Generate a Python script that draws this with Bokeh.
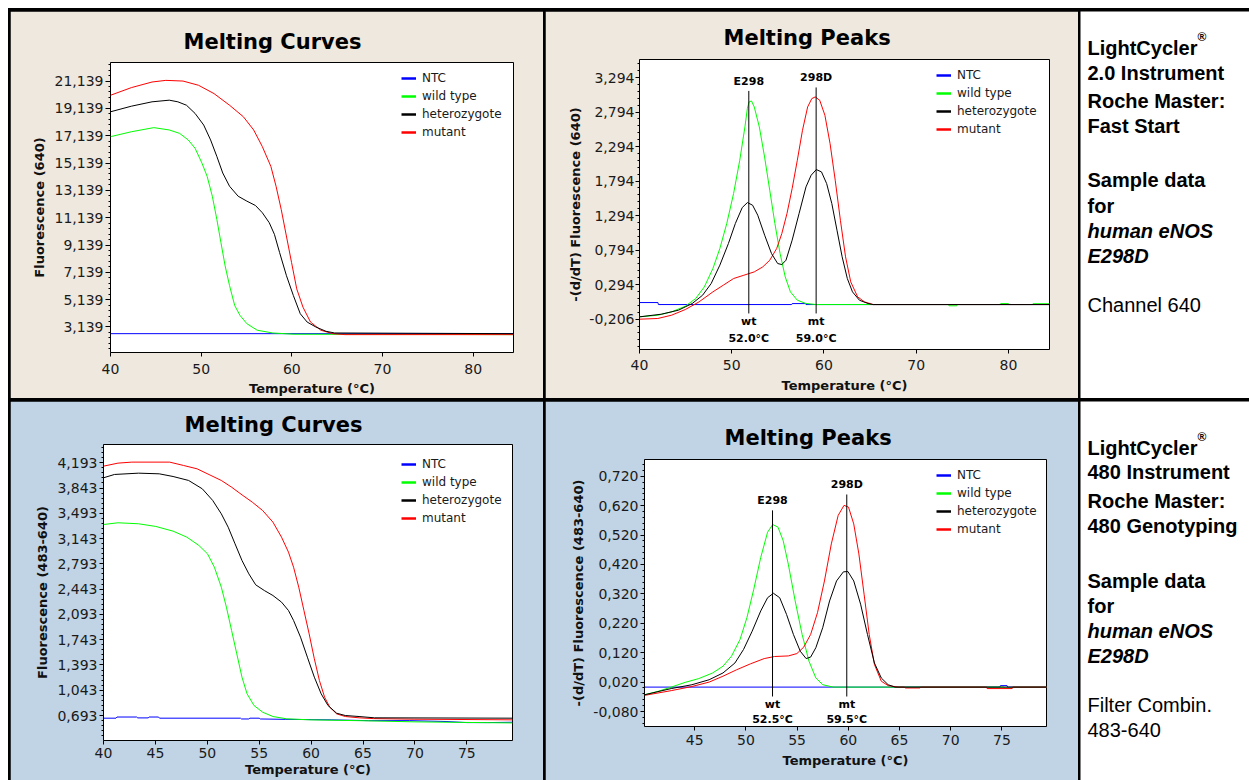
from bokeh.plotting import figure
from bokeh.models import (Range1d, FixedTicker, CustomJSTickFormatter, Legend, LegendItem,
                          Title, GridBox, Spacer)
from bokeh.core.properties import value
from bokeh.embed import file_html
from bokeh.resources import INLINE

# ------------------------------------------------------------------ data
SERIES = ["NTC", "wild type", "heterozygote", "mutant"]
SERIES_COLORS = ["#0000FF", "#00FF00", "#000000", "#FF0000"]

# LightCycler 2.0 - Melting Curves, channel 640
lc20_mc_ntc_t = [40.0, 84.4]
lc20_mc_ntc_f = [2.65, 2.65]
lc20_mc_wt_t = [40.0, 42.3, 44.77, 46.48, 47.62, 48.57, 49.33, 50.09, 50.66, 51.23, 51.73,
                52.18, 52.64, 53.13, 53.70, 54.28, 55.04, 56.18, 57.89, 60.17, 84.4]
lc20_mc_wt_f = [17.07, 17.43, 17.73, 17.56, 17.31, 16.83, 16.22, 15.13, 14.16, 12.71, 11.01,
                9.32, 7.62, 6.17, 4.71, 3.99, 3.38, 2.90, 2.70, 2.61, 2.58]
lc20_mc_het_t = [40.0, 42.3, 44.58, 46.48, 47.43, 48.38, 49.33, 50.28, 51.04, 51.73, 52.38,
                 53.13, 54.08, 55.04, 55.99, 56.75, 57.51, 58.08, 58.65, 59.41, 60.17, 60.93,
                 61.69, 62.64, 63.78, 64.73, 84.4]
lc20_mc_het_f = [18.89, 19.30, 19.62, 19.74, 19.62, 19.37, 18.77, 17.92, 16.83, 15.62, 14.41,
                 13.44, 12.71, 12.35, 12.03, 11.50, 10.77, 9.92, 8.59, 6.89, 5.44, 4.11,
                 3.50, 3.14, 2.82, 2.70, 2.65]
lc20_mc_mut_t = [40.0, 42.3, 44.58, 46.10, 48.0, 49.71, 51.42, 53.13, 54.65, 55.79, 56.74,
                 57.69, 58.26, 58.83, 59.40, 59.97, 60.54, 61.23, 62.06, 63.20, 64.53, 65.86, 84.4]
lc20_mc_mut_f = [20.10, 20.66, 21.07, 21.19, 21.14, 20.83, 20.22, 19.37, 18.53, 17.56, 16.35,
                 14.89, 13.44, 11.74, 9.80, 7.86, 5.93, 4.59, 3.50, 2.90, 2.65, 2.58, 2.58]
lc20_mc_xticks = [40, 50, 60, 70, 80]
lc20_mc_yticks = [3.139, 5.139, 7.139, 9.139, 11.139, 13.139, 15.139, 17.139, 19.139, 21.139]

# LightCycler 2.0 - Melting Peaks, channel 640
lc20_mp_ntc_t = [40.0, 42.0, 42.05, 56.5, 56.55, 58.0, 58.05, 84.4]
lc20_mp_ntc_f = [0.035, 0.035, 0.006, 0.006, 0.020, 0.020, 0.006, 0.006]
lc20_mp_wt_t = [40.0, 41.98, 43.48, 44.97, 46.09, 47.03, 47.96, 48.71, 49.46, 50.20, 50.87,
                51.43, 51.70, 51.88, 52.14, 52.44, 52.99, 53.56, 54.12, 54.68, 55.24, 55.80,
                56.36, 57.11, 58.04, 59.16, 73.5, 73.55, 74.4, 74.45, 79.1, 79.15, 80.0, 80.05,
                82.6, 82.65, 84.4]
lc20_mp_wt_f = [-0.172, -0.148, -0.100, -0.018, 0.093, 0.262, 0.528, 0.817, 1.179, 1.614, 2.096,
                2.579, 2.850, 2.940, 2.955, 2.868, 2.579, 2.144, 1.662, 1.179, 0.745, 0.407,
                0.190, 0.069, 0.021, 0.006, 0.006, -0.012, -0.012, 0.006, 0.006, 0.020, 0.020, 0.006,
                0.006, 0.018, 0.018]
lc20_mp_het_t = [40.0, 42.36, 44.22, 45.72, 46.84, 47.77, 48.71, 49.64, 50.39, 51.14, 51.70,
                 52.26, 52.82, 53.57, 54.31, 54.98, 55.43, 55.88, 56.55, 57.30, 58.05, 58.61,
                 59.17, 59.73, 60.29, 60.85, 61.41, 61.97, 62.53, 63.09, 63.84, 64.77, 65.33, 84.4]
lc20_mp_het_f = [-0.172, -0.134, -0.076, 0.021, 0.141, 0.310, 0.576, 0.890, 1.179, 1.411, 1.483,
                 1.445, 1.300, 1.010, 0.745, 0.600, 0.585, 0.648, 0.938, 1.324, 1.710, 1.879,
                 1.961, 1.927, 1.758, 1.469, 1.083, 0.697, 0.383, 0.190, 0.069, 0.021, 0.006, 0.006]
lc20_mp_mut_t = [40.0, 41.98, 43.48, 44.97, 46.46, 47.96, 49.08, 50.20, 51.32, 52.44, 53.37,
                 54.12, 54.87, 55.43, 55.99, 56.55, 57.11, 57.67, 58.23, 58.68, 59.05, 59.54,
                 60.10, 60.66, 61.22, 61.78, 62.34, 62.90, 63.65, 64.39, 65.33, 84.4]
lc20_mp_mut_f = [-0.206, -0.196, -0.148, -0.066, 0.045, 0.190, 0.286, 0.383, 0.431, 0.479, 0.552,
                 0.648, 0.817, 1.034, 1.324, 1.686, 2.096, 2.530, 2.868, 2.989, 3.013, 2.965,
                 2.748, 2.337, 1.807, 1.227, 0.697, 0.335, 0.117, 0.045, 0.006, 0.006]
lc20_mp_xticks = [40, 50, 60, 70, 80]
lc20_mp_yticks = [-0.206, 0.294, 0.794, 1.294, 1.794, 2.294, 2.794, 3.294]
lc20_peak_t = [51.85, 59.15]
lc20_peak_names = ["E298", "298D"]
lc20_peak_genotypes = ["wt", "mt"]
lc20_peak_tm = ["52.0°C", "59.0°C"]

# LightCycler 480 - Melting Curves, filter 483-640
lc480_mc_ntc_t = [40.0, 41.2, 41.3, 43.2, 43.3, 44.3, 44.4, 45.3, 45.4, 53.2, 53.3, 54.0, 54.1,
                  55.0, 55.1, 57.5, 62.0, 65.5, 69.5, 73.0, 75.0, 77.0, 79.4]
lc480_mc_ntc_f = [0.656, 0.656, 0.672, 0.672, 0.660, 0.660, 0.672, 0.672, 0.656, 0.656, 0.645,
                  0.645, 0.656, 0.656, 0.645, 0.640, 0.633, 0.622, 0.622, 0.610, 0.595, 0.595, 0.600]
lc480_mc_wt_t = [40.0, 41.39, 43.38, 45.04, 46.70, 48.03, 49.19, 50.02, 50.68, 51.35, 51.84,
                 52.34, 52.84, 53.34, 53.83, 54.50, 55.33, 56.32, 57.65, 59.97, 65.28, 70.0, 79.4]
lc480_mc_wt_f = [3.338, 3.362, 3.348, 3.311, 3.246, 3.163, 3.048, 2.932, 2.747, 2.470, 2.193,
                 1.870, 1.547, 1.224, 0.993, 0.831, 0.739, 0.679, 0.647, 0.633, 0.620, 0.605, 0.590]
lc480_mc_het_t = [40.0, 41.06, 43.38, 45.37, 46.70, 48.20, 49.52, 50.52, 51.35, 52.01, 52.67,
                  53.34, 54.00, 54.66, 55.49, 56.32, 57.15, 57.82, 58.31, 58.98, 59.64, 60.31,
                  60.97, 61.63, 62.46, 63.29, 64.62, 66.11, 79.4]
lc480_mc_het_f = [3.985, 4.031, 4.049, 4.040, 4.003, 3.948, 3.832, 3.671, 3.486, 3.301, 3.071,
                  2.840, 2.655, 2.503, 2.424, 2.355, 2.263, 2.147, 2.009, 1.778, 1.501, 1.224,
                  0.993, 0.831, 0.725, 0.693, 0.679, 0.661, 0.656]
lc480_mc_mut_t = [40.0, 41.39, 42.72, 46.37, 47.70, 49.02, 50.35, 51.35, 52.34, 53.34, 54.33,
                  55.33, 56.32, 57.15, 57.82, 58.31, 58.81, 59.31, 59.81, 60.31, 60.80, 61.30,
                  61.80, 62.46, 63.29, 64.62, 66.0, 70.0, 79.4]
lc480_mc_mut_f = [4.146, 4.188, 4.202, 4.202, 4.156, 4.109, 4.017, 3.948, 3.855, 3.749, 3.648,
                  3.532, 3.371, 3.163, 2.955, 2.747, 2.470, 2.147, 1.824, 1.478, 1.178, 0.947,
                  0.808, 0.716, 0.679, 0.661, 0.650, 0.642, 0.633]
lc480_mc_xticks = [40, 45, 50, 55, 60, 65, 70, 75]
lc480_mc_yticks = [0.693, 1.043, 1.393, 1.743, 2.093, 2.443, 2.793, 3.143, 3.493, 3.843, 4.193]

# LightCycler 480 - Melting Peaks, filter 483-640
lc480_mp_ntc_t = [40.1, 74.8, 74.85, 75.5, 75.55, 79.4]
lc480_mp_ntc_f = [0.003, 0.003, 0.008, 0.008, 0.003, 0.003]
lc480_mp_wt_t = [40.12, 41.37, 42.71, 44.06, 45.40, 46.75, 47.76, 48.59, 49.43, 50.10, 50.77,
                 51.45, 52.12, 52.62, 53.13, 53.64, 54.14, 54.81, 55.49, 56.16, 56.83, 57.51,
                 58.51, 75.2, 75.25, 76.0, 76.05, 79.4]
lc480_mp_wt_f = [-0.023, -0.012, 0.003, 0.019, 0.032, 0.051, 0.074, 0.108, 0.165, 0.239, 0.336,
                 0.444, 0.530, 0.556, 0.547, 0.501, 0.421, 0.296, 0.182, 0.091, 0.034, 0.011,
                 0.003, 0.003, 0.000, 0.000, 0.003, 0.003]
lc480_mp_het_t = [40.12, 42.71, 44.73, 46.41, 47.76, 48.93, 49.77, 50.61, 51.45, 52.12, 52.69,
                  53.30, 53.97, 54.64, 55.31, 55.88, 56.32, 56.83, 57.50, 58.17, 58.85, 59.52,
                  59.96, 60.53, 61.20, 61.87, 62.55, 63.22, 63.89, 64.56, 79.4]
lc480_mp_het_f = [-0.023, -0.002, 0.011, 0.028, 0.051, 0.085, 0.131, 0.193, 0.262, 0.307, 0.322,
                  0.307, 0.250, 0.182, 0.125, 0.100, 0.105, 0.137, 0.205, 0.296, 0.364, 0.395,
                  0.396, 0.364, 0.285, 0.182, 0.085, 0.034, 0.011, 0.003, 0.003]
lc480_mp_mut_t = [40.12, 42.71, 44.73, 46.41, 47.76, 49.10, 50.44, 51.79, 52.80, 54.14, 54.98,
                  55.65, 56.32, 56.99, 57.67, 58.34, 59.01, 59.58, 60.02, 60.53, 61.03, 61.54,
                  62.04, 62.55, 63.22, 63.89, 64.90, 65.5, 65.55, 67.0, 67.05, 73.5, 73.55, 76.0,
                  76.05, 79.4]
lc480_mp_mut_f = [-0.025, -0.009, 0.005, 0.020, 0.040, 0.062, 0.082, 0.100, 0.107, 0.109, 0.117,
                  0.139, 0.182, 0.256, 0.364, 0.490, 0.587, 0.621, 0.615, 0.558, 0.456, 0.319,
                  0.182, 0.080, 0.023, 0.008, 0.003, 0.003, 0.000, 0.000, 0.003, 0.003, -0.002,
                  -0.002, 0.003, 0.003]
lc480_mp_xticks = [40, 45, 50, 55, 60, 65, 70, 75]
lc480_mp_yticks = [-0.080, 0.020, 0.120, 0.220, 0.320, 0.420, 0.520, 0.620, 0.720]
lc480_peak_t = [52.6, 59.85]
lc480_peak_names = ["E298", "298D"]
lc480_peak_genotypes = ["wt", "mt"]
lc480_peak_tm = ["52.5°C", "59.5°C"]

# descriptive text column
info20_bold = ["LightCycler", "2.0 Instrument", "Roche Master:", "Fast Start", "Sample data", "for"]
info20_italic = ["human eNOS", "E298D"]
info20_plain = ["Channel 640"]
info480_bold = ["LightCycler", "480 Instrument", "Roche Master:", "480 Genotyping", "Sample data", "for"]
info480_italic = ["human eNOS", "E298D"]
info480_plain = ["Filter Combin.", "483-640"]

# ------------------------------------------------------------------ styling
BEIGE = "#EEE8DF"
STEEL = "#C0D4E5"
FONT = "DejaVu Sans"


def minor_ticks(major, lo, hi, n=5):
    step = (major[1] - major[0]) / n
    v = major[0]
    while v - step >= lo:
        v -= step
    out = []
    while v <= hi + 1e-9:
        out.append(round(v, 6))
        v += step
    return out


def make_chart(w, h, xr, yr, borders, bg, title, title_off, title_standoff, xlabel, ylabel,
               xticks, yticks, curves, legend_xy, ax):
    p = figure(width=w, height=h, x_range=Range1d(*xr), y_range=Range1d(*yr),
               output_backend="svg", toolbar_location=None,
               min_border_left=borders[0], min_border_right=borders[1],
               min_border_top=borders[2], min_border_bottom=borders[3],
               background_fill_color="white", border_fill_color=bg,
               outline_line_color="black", outline_line_width=1)
    p.frame_align = False
    p.title = Title(text=title, align="left", offset=title_off, standoff=title_standoff,
                    text_font=FONT, text_font_size="21px", text_font_style="bold",
                    text_color="black")
    p.grid.visible = False
    xa, ya = p.xaxis[0], p.yaxis[0]
    xa.ticker = FixedTicker(ticks=xticks, minor_ticks=[])
    ya.ticker = FixedTicker(ticks=yticks, minor_ticks=minor_ticks(yticks, yr[0], yr[1]))
    ya.formatter = CustomJSTickFormatter(code="return tick.toFixed(3).replace('.', ',');")
    for a in (xa, ya):
        a.axis_line_color = None
        a.major_tick_in = 0
        a.minor_tick_in = 0
        a.major_tick_line_color = "black"
        a.minor_tick_line_color = "black"
        a.major_label_text_font = FONT
        a.major_label_text_font_size = "14px"
        a.major_label_text_color = "#1a1a1a"
        a.axis_label_text_font = FONT
        a.axis_label_text_font_size = "13px"
        a.axis_label_text_font_style = "bold"
        a.axis_label_text_color = "#111111"
    xa.axis_label = xlabel
    ya.axis_label = ylabel
    xa.major_tick_out, xa.major_label_standoff, xa.axis_label_standoff = ax[0]
    ya.major_tick_out, ya.major_label_standoff, ya.axis_label_standoff = ax[1]
    ya.minor_tick_out = 2
    xa.minor_tick_out = 0

    # draw order: NTC, wild type, mutant, heterozygote
    for idx in (0, 1, 3, 2):
        t, f = curves[idx]
        p.line(t, f, line_color=SERIES_COLORS[idx], line_width=1)

    # legend swatches: thicker copies of the curves, mapped to a range that lies off the frame
    p.extra_y_ranges = {"swatch": Range1d(-3, -2)}
    items = []
    for (t, f), name, col in zip(curves, SERIES, SERIES_COLORS):
        r = p.line(t, f, line_color=col, line_width=2.5, y_range_name="swatch")
        items.append(LegendItem(label=name, renderers=[r]))
    leg = Legend(items=items, location=legend_xy, padding=0, spacing=0, margin=0,
                 label_height=18, glyph_height=18, glyph_width=15, label_standoff=6,
                 label_text_font=FONT, label_text_font_size="12px",
                 label_text_color="#1a1a1a", background_fill_alpha=0,
                 border_line_color=None)
    p.add_layout(leg)
    return p


def add_peaks(p, tpos, top, bottom, names, name_y, genos, geno_y, tms, tm_y):
    n = len(tpos)
    p.segment(x0=tpos, y0=[bottom] * n, x1=tpos, y1=top, line_color="black", line_width=1)
    for texts, ys in ((names, name_y), (genos, [geno_y] * n), (tms, [tm_y] * n)):
        p.text(x=tpos, y=ys, text=texts, text_font=value(FONT), text_font_size="11px",
               text_font_style="bold", text_align="center", text_baseline="middle",
               text_color="black")


ROW1_H, ROW2_H = 387, 379
COL_W, INFO_W = 533, 169

# ---- LightCycler 2.0 melting curves
pA = make_chart(COL_W, ROW1_H, (40, 84.45), (1.271, 22.498), (100, 30, 51, 44), BEIGE,
                "Melting Curves", 73, 18, "Temperature (°C)", "Fluorescence (640)",
                lc20_mc_xticks, lc20_mc_yticks,
                [(lc20_mc_ntc_t, lc20_mc_ntc_f), (lc20_mc_wt_t, lc20_mc_wt_f),
                 (lc20_mc_het_t, lc20_mc_het_f), (lc20_mc_mut_t, lc20_mc_mut_f)],
                (291, 211), [(4, 7, 4), (5, 2, 5)])

# ---- LightCycler 2.0 melting peaks
pB = make_chart(COL_W, ROW1_H, (40, 84.45), (-0.645, 3.555), (94, 29, 48, 49), BEIGE,
                "Melting Peaks", 84, 20, "Temperature (°C)", "-(d/dT) Fluorescence (640)",
                lc20_mp_xticks, lc20_mp_yticks,
                [(lc20_mp_ntc_t, lc20_mp_ntc_f), (lc20_mp_wt_t, lc20_mp_wt_f),
                 (lc20_mp_het_t, lc20_mp_het_f), (lc20_mp_mut_t, lc20_mp_mut_f)],
                (297, 211), [(4, 6, 5), (4, 1, 3)])
add_peaks(pB, lc20_peak_t, [3.10, 3.15], -0.123, lc20_peak_names, [3.23, 3.294],
          lc20_peak_genotypes, -0.245, lc20_peak_tm, -0.485)

# ---- LightCycler 480 melting curves
pC = make_chart(COL_W, ROW2_H, (40, 79.4), (0.347, 4.446), (93, 31, 43, 40), STEEL,
                "Melting Curves", 81, 15, "Temperature (°C)", "Fluorescence (483-640)",
                lc480_mc_xticks, lc480_mc_yticks,
                [(lc480_mc_ntc_t, lc480_mc_ntc_f), (lc480_mc_wt_t, lc480_mc_wt_f),
                 (lc480_mc_het_t, lc480_mc_het_f), (lc480_mc_mut_t, lc480_mc_mut_f)],
                (298, 213), [(4, 3, 1), (4, 2, 4)])

# ---- LightCycler 480 melting peaks
pD = make_chart(COL_W, ROW2_H, (40.1, 79.35), (-0.131, 0.777), (99, 32, 58, 54), STEEL,
                "Melting Peaks", 80, 19, "Temperature (°C)", "-(d/dT) Fluorescence (483-640)",
                lc480_mp_xticks, lc480_mp_yticks,
                [(lc480_mp_ntc_t, lc480_mp_ntc_f), (lc480_mp_wt_t, lc480_mp_wt_f),
                 (lc480_mp_het_t, lc480_mp_het_f), (lc480_mp_mut_t, lc480_mp_mut_f)],
                (292, 188), [(4, 4, 5), (4, 2, 4)])
add_peaks(pD, lc480_peak_t, [0.604, 0.658], -0.029, lc480_peak_names, [0.638, 0.692],
          lc480_peak_genotypes, -0.057, lc480_peak_tm, -0.108)


# ---- text column
def info_cell(h, blocks, reg_y):
    p = figure(width=INFO_W, height=h, x_range=Range1d(0, INFO_W), y_range=Range1d(h, 0),
               output_backend="svg", toolbar_location=None,
               min_border_left=0, min_border_right=0, min_border_top=0, min_border_bottom=0,
               x_axis_location=None, y_axis_location=None, outline_line_color=None,
               background_fill_color="white", border_fill_color="white")
    p.frame_align = False
    p.grid.visible = False
    for texts, ys, style in blocks:
        p.text(x=[7] * len(texts), y=ys, text=texts, text_font=value("Liberation Sans"),
               text_font_size="20px", text_font_style=style, text_baseline="alphabetic",
               text_align="left", text_color="black")
    p.text(x=[117], y=[reg_y], text=["®"], text_font=value("Liberation Sans"),
           text_font_size="12px", text_font_style="bold", text_baseline="alphabetic",
           text_align="left", text_color="black")
    return p


tA = info_cell(ROW1_H, [(info20_bold, [36, 61, 89, 114, 168, 194], "bold"),
                        (info20_italic, [219, 244], "bold italic"),
                        (info20_plain, [293], "normal")], 25)
tB = info_cell(ROW2_H, [(info480_bold, [46, 70, 99, 124, 179, 204], "bold"),
                        (info480_italic, [229, 254], "bold italic"),
                        (info480_plain, [303, 328], "normal")], 35)

table = GridBox(children=[(Spacer(width=0, height=0), 0, 0),
                          (pA, 1, 1), (pB, 1, 2), (tA, 1, 3),
                          (pC, 2, 1), (pD, 2, 2), (tB, 2, 3)],
                spacing=(3, 2), styles={"background-color": "black"})
page = GridBox(children=[(Spacer(width=8, height=8), 0, 0), (table, 1, 1)], spacing=0)

open("out.html", "w").write(file_html(page, INLINE))
